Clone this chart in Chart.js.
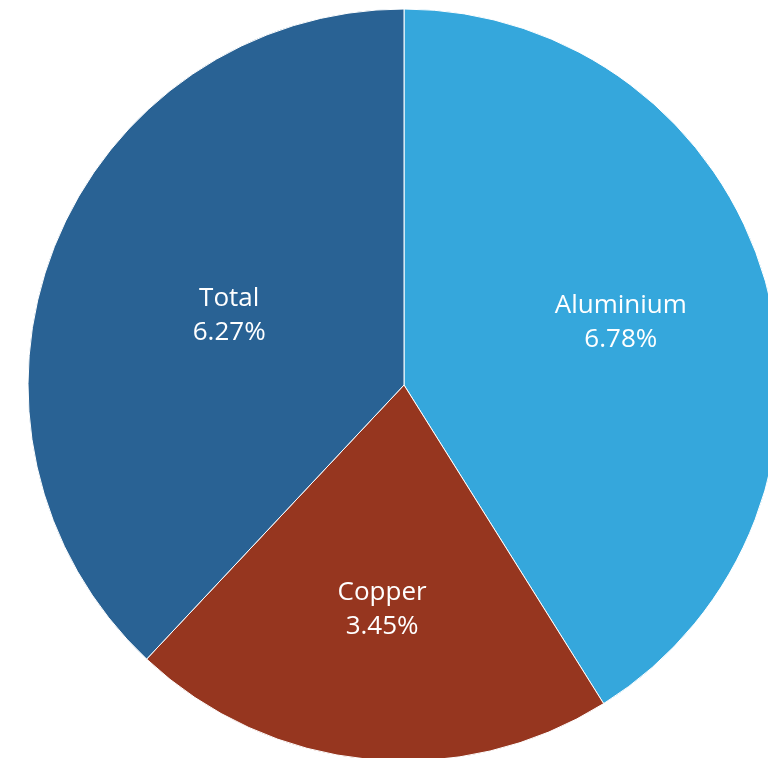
<!DOCTYPE html>
<html>
<head>
<meta charset="utf-8">
<script src="https://cdn.jsdelivr.net/npm/chart.js@4"></script>
<style>
  html, body { margin: 0; padding: 0; background: #ffffff; overflow: hidden; }
  #wrap { width: 768px; height: 758px; }
</style>
</head>
<body>
<div id="wrap"><canvas id="pie" width="768" height="758"></canvas></div>
<script>
// Share of each metal, in percent
const categories = [ "Aluminium", "Copper", "Total" ];
const values = [ 6.78, 3.45, 6.27 ];
const colors = [ "#35a7dc", "#96361f", "#296294" ];

// how far out (share of radius) each label sits
const labelRadius = [ 0.6, 0.6, 0.5 ];

const sliceLabels = {
  id: "sliceLabels",
  afterDatasetsDraw( chart ) {
    let ctx = chart.ctx;
    let meta = chart.getDatasetMeta( 0 );

    ctx.save();
    ctx.fillStyle = "#ffffff";
    ctx.font = "26px 'Open Sans', 'Noto Sans', sans-serif";
    ctx.textAlign = "center";
    ctx.textBaseline = "middle";

    meta.data.forEach( ( arc, i ) => {
      let p = arc.getProps( [ "x", "y", "startAngle", "endAngle", "outerRadius" ], true );
      let mid = ( p.startAngle + p.endAngle ) / 2;
      let r = p.outerRadius * labelRadius[ i ];
      let x = p.x + Math.cos( mid ) * r;
      let y = p.y + Math.sin( mid ) * r;

      ctx.fillText( categories[ i ], x, y - 17 );
      ctx.fillText( values[ i ].toFixed( 2 ) + "%", x, y + 17 );
    } );

    ctx.restore();
  }
};

new Chart( document.getElementById( "pie" ), {
  type: "pie",
  data: {
    labels: categories,
    datasets: [ {
      data: values,
      backgroundColor: colors,
      borderColor: "#ffffff",
      borderWidth: 1,
      radius: 376
    } ]
  },
  options: {
    responsive: false,
    animation: false,
    layout: { padding: { left: 40, top: 12 } },
    plugins: {
      legend: { display: false },
      tooltip: { enabled: false }
    }
  },
  plugins: [ sliceLabels ]
} );
</script>
</body>
</html>
